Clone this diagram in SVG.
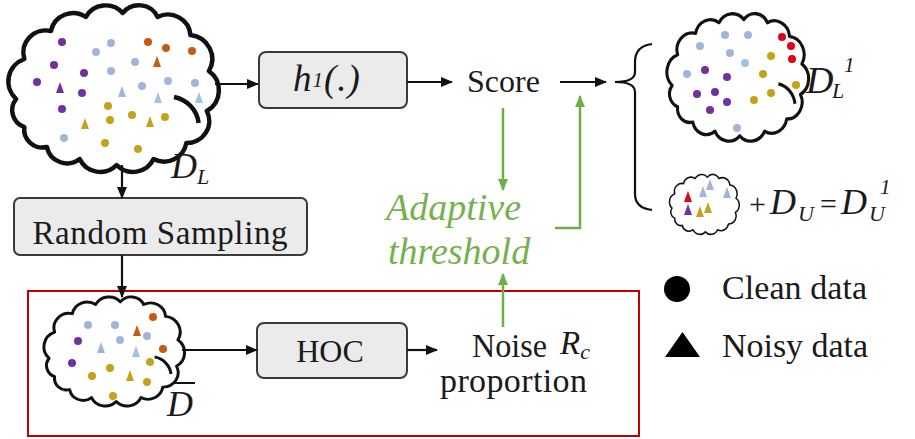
<svg xmlns="http://www.w3.org/2000/svg" xmlns:xlink="http://www.w3.org/1999/xlink" width="915" height="439" viewBox="0 0 915 439">
<style>
.txt{font-family:"Liberation Serif","Times New Roman",serif;fill:#1a1a1a}
.it{font-style:italic}
.gr{fill:#76b04f}
.box{fill:#ebebeb;stroke:#3a3a3a;stroke-width:2}
.cl{fill:#ffffff;stroke:#111;stroke-width:2.2;vector-effect:non-scaling-stroke;stroke-linejoin:round}
.ln{fill:none;stroke:#111;stroke-width:2.2}
.gl{fill:none;stroke:#70ad47;stroke-width:2.5}
.pu{fill:#7030a0}.lb{fill:#a3b4da}.tb{fill:#9ec3e4}.or{fill:#c55a11}.go{fill:#c6a21c}.rd{fill:#e0001b}
</style>
<defs>
<marker id="ah" viewBox="0 0 12 10" refX="11" refY="5" markerWidth="12" markerHeight="10" markerUnits="userSpaceOnUse" orient="auto"><path d="M0,0 L12,5 L0,10 z" fill="#111"/></marker>
<marker id="ag" viewBox="0 0 12 10" refX="11" refY="5" markerWidth="12" markerHeight="10" markerUnits="userSpaceOnUse" orient="auto"><path d="M0,0 L12,5 L0,10 z" fill="#70ad47"/></marker>
<path id="cloud" d="M3,46 A12,12 0 0 1 7,26 A11,11 0 0 1 20,12 A11,11 0 0 1 37,5 A11,11 0 0 1 55,3 A10,10 0 0 1 72,5 A11,11 0 0 1 88,14 A12,12 0 0 1 97,32 A12,12 0 0 1 96,52 A11,11 0 0 1 86,68 A11,11 0 0 1 70,76 A11,11 0 0 1 52,79 A11,11 0 0 1 34,76 A10,10 0 0 1 18,70 A9,9 0 0 1 7,60 A9,9 0 0 1 3,46 Z"/>
<path id="inner" d="M80,45 A15,15 0 0 1 92,58"/>
<path id="t" d="M0,-6 L4,5 L-4,5 Z"/>
</defs>

<g id="cloud-DL">
<g transform="translate(10,7) scale(2.05,2.0)">
<use xlink:href="#cloud" class="cl"/>
<use xlink:href="#inner" class="cl" style="fill:none"/>
</g>
<circle class="pu" cx="62" cy="42" r="4"/><circle class="pu" cx="54" cy="65" r="4"/><circle class="pu" cx="84" cy="73" r="4"/><circle class="pu" cx="37" cy="82" r="4"/><circle class="pu" cx="82" cy="93" r="4"/><circle class="pu" cx="62" cy="109" r="4"/>
<use xlink:href="#t" class="pu" x="60" y="88"/>
<circle class="lb" cx="111" cy="43" r="4"/><circle class="lb" cx="96" cy="52" r="4"/><circle class="lb" cx="135" cy="62" r="4"/><circle class="lb" cx="111" cy="71" r="4"/><circle class="lb" cx="142" cy="86" r="4"/><circle class="lb" cx="168" cy="81" r="4"/><circle class="lb" cx="195" cy="83" r="4"/><circle class="lb" cx="64" cy="138" r="4"/>
<use xlink:href="#t" class="lb" x="122" y="92"/><use xlink:href="#t" class="tb" x="158" y="98"/><use xlink:href="#t" class="tb" x="199" y="98"/>
<circle class="or" cx="148" cy="42" r="4"/><circle class="or" cx="166" cy="48" r="4"/><circle class="or" cx="192" cy="51" r="4"/>
<use xlink:href="#t" class="or" x="157" y="62"/>
<circle class="go" cx="108" cy="106" r="4"/><circle class="go" cx="132" cy="115" r="4"/><circle class="go" cx="110" cy="120" r="4"/><circle class="go" cx="165" cy="117" r="4"/><circle class="go" cx="105" cy="143" r="4"/><circle class="go" cx="138" cy="149" r="4"/>
<use xlink:href="#t" class="go" x="85" y="124"/><use xlink:href="#t" class="go" x="150" y="122"/>
<text class="txt it" x="171" y="178" font-size="36">D<tspan font-size="22" dy="6">L</tspan></text>
</g>

<g id="box-h">
<rect class="box" x="259" y="52" width="148" height="56" rx="7"/>
<text class="txt it" x="293" y="91" font-size="37" letter-spacing="1">h<tspan font-size="21" dy="-4">1</tspan><tspan dy="4">(.)</tspan></text>
</g>

<g id="score"><text class="txt" x="467" y="92" font-size="32" textLength="73" lengthAdjust="spacing">Score</text></g>

<g id="adaptive">
<text class="txt it gr" x="386" y="220" font-size="38">Adaptive</text>
<text class="txt it gr" x="388" y="264" font-size="38">threshold</text>
</g>

<g id="box-rs">
<rect class="box" x="14" y="198" width="293" height="57" rx="6"/>
<text class="txt" x="160" y="244" font-size="33" text-anchor="middle" textLength="255" lengthAdjust="spacing">Random Sampling</text>
</g>

<g id="region"><rect x="28" y="291" width="611" height="145" fill="none" stroke="#c00000" stroke-width="2"/></g>

<g id="cloud-Dbar">
<g transform="translate(45,298) scale(1.37,1.31)">
<use xlink:href="#cloud" class="cl"/>
<use xlink:href="#inner" class="cl" style="fill:none"/>
</g>
<circle class="lb" cx="88" cy="325" r="4"/><circle class="lb" cx="115" cy="325" r="4"/><circle class="lb" cx="120" cy="340" r="4"/><circle class="lb" cx="147" cy="336" r="4"/>
<circle class="pu" cx="78" cy="341" r="4"/><circle class="pu" cx="72" cy="363" r="4"/>
<circle class="or" cx="153" cy="317" r="4"/><circle class="or" cx="163" cy="349" r="4"/>
<use xlink:href="#t" class="or" x="137" y="331"/>
<use xlink:href="#t" class="lb" x="101" y="348"/><use xlink:href="#t" class="tb" x="136" y="352"/>
<circle class="go" cx="110" cy="368" r="4"/><circle class="go" cx="92" cy="376" r="4"/><circle class="go" cx="150" cy="362" r="4"/><circle class="go" cx="147" cy="382" r="4"/><circle class="go" cx="113" cy="396" r="4"/>
<use xlink:href="#t" class="go" x="130" y="376"/>
<text class="txt it" x="167" y="416" font-size="36">D</text>
<line x1="172" y1="383" x2="195" y2="383" stroke="#111" stroke-width="2"/>
</g>

<g id="box-hoc">
<rect class="box" x="257" y="323" width="150" height="55" rx="7"/>
<text class="txt" x="330" y="362" font-size="32" text-anchor="middle">HOC</text>
</g>

<g id="noise">
<text class="txt" x="472" y="357" font-size="34" textLength="75" lengthAdjust="spacingAndGlyphs">Noise</text>
<text class="txt" x="440" y="392" font-size="34" textLength="147" lengthAdjust="spacing">proportion</text>
<text class="txt it" x="560" y="354" font-size="33">R<tspan font-size="22" dy="5">c</tspan></text>
</g>

<g id="cloud-DL1">
<g transform="translate(668,15) scale(1.38,1.53)">
<use xlink:href="#cloud" class="cl"/>
<use xlink:href="#inner" class="cl" style="fill:none"/>
</g>
<circle class="lb" cx="700" cy="46" r="4"/><circle class="lb" cx="725" cy="35" r="4"/><circle class="lb" cx="748" cy="35" r="4"/><circle class="lb" cx="730" cy="53" r="4"/><circle class="tb" cx="745" cy="63" r="4"/><circle class="lb" cx="687" cy="74" r="4"/><circle class="lb" cx="737" cy="128" r="4"/>
<circle class="pu" cx="705" cy="70" r="4"/><circle class="pu" cx="727" cy="77" r="4"/><circle class="pu" cx="697" cy="94" r="4"/><circle class="pu" cx="715" cy="92" r="4"/><circle class="pu" cx="727" cy="102" r="4"/><circle class="pu" cx="710" cy="110" r="4"/>
<circle class="go" cx="771" cy="56" r="4"/><circle class="go" cx="763" cy="74" r="4"/><circle class="go" cx="771" cy="93" r="4"/><circle class="go" cx="754" cy="100" r="4"/><circle class="go" cx="796" cy="85" r="4"/>
<circle class="rd" cx="782" cy="37" r="4"/><circle class="rd" cx="791" cy="46" r="4"/><circle class="rd" cx="792" cy="59" r="4"/>
<text class="txt it" x="806" y="93" font-size="38">D</text>
<text class="txt it" x="832" y="98" font-size="22">L</text>
<text class="txt it" x="844" y="72" font-size="21">1</text>
</g>

<g id="cloud-small">
<g transform="translate(670,175) scale(0.68,0.72)">
<use xlink:href="#cloud" class="cl"/>
</g>
<use xlink:href="#t" class="rd" x="688" y="197"/><use xlink:href="#t" class="lb" x="703" y="192"/><use xlink:href="#t" class="lb" x="710" y="185"/><use xlink:href="#t" class="lb" x="727" y="193"/>
<use xlink:href="#t" class="pu" x="688" y="210"/><use xlink:href="#t" class="go" x="700" y="212"/><use xlink:href="#t" class="go" x="708" y="208"/>
</g>

<g id="formula">
<text class="txt" x="749" y="214" font-size="30">+</text>
<text class="txt it" x="770" y="214" font-size="36">D</text>
<text class="txt it" x="798" y="221" font-size="22">U</text>
<text class="txt" x="820" y="214" font-size="30">=</text>
<text class="txt it" x="841" y="214" font-size="36">D</text>
<text class="txt it" x="869" y="221" font-size="22">U</text>
<text class="txt it" x="880" y="194" font-size="21">1</text>
</g>

<g id="legend">
<circle cx="677" cy="289" r="13" fill="#000"/>
<text class="txt" x="722" y="299" font-size="34" textLength="145" lengthAdjust="spacing">Clean data</text>
<path d="M665,357 L700,357 L682.5,332 Z" fill="#000"/>
<text class="txt" x="722" y="357" font-size="34" textLength="146" lengthAdjust="spacing">Noisy data</text>
</g>

<g id="connectors">
<path class="ln" d="M215,84 L258,84" marker-end="url(#ah)"/>
<path class="ln" d="M407,82 L452,82" marker-end="url(#ah)"/>
<path class="ln" d="M560,82 L606,82" marker-end="url(#ah)"/>
<path class="ln" d="M122,165 L122,198" marker-end="url(#ah)"/>
<path class="ln" d="M122,255 L122,297" marker-end="url(#ah)"/>
<path class="ln" d="M182,350 L257,350" marker-end="url(#ah)"/>
<path class="ln" d="M407,350 L437,350" marker-end="url(#ah)"/>
<path class="ln" d="M652,44 Q635,46 635,62 L635,72 Q635,82 615,82 Q635,82 635,92 L635,194 Q635,208 652,210"/>
<path class="gl" d="M503,108 L503,190" marker-end="url(#ag)"/>
<path class="gl" d="M555,228 L580,228 L580,96" marker-end="url(#ag)"/>
<path class="gl" d="M503,327 L503,274" marker-end="url(#ag)"/>
</g>
</svg>
